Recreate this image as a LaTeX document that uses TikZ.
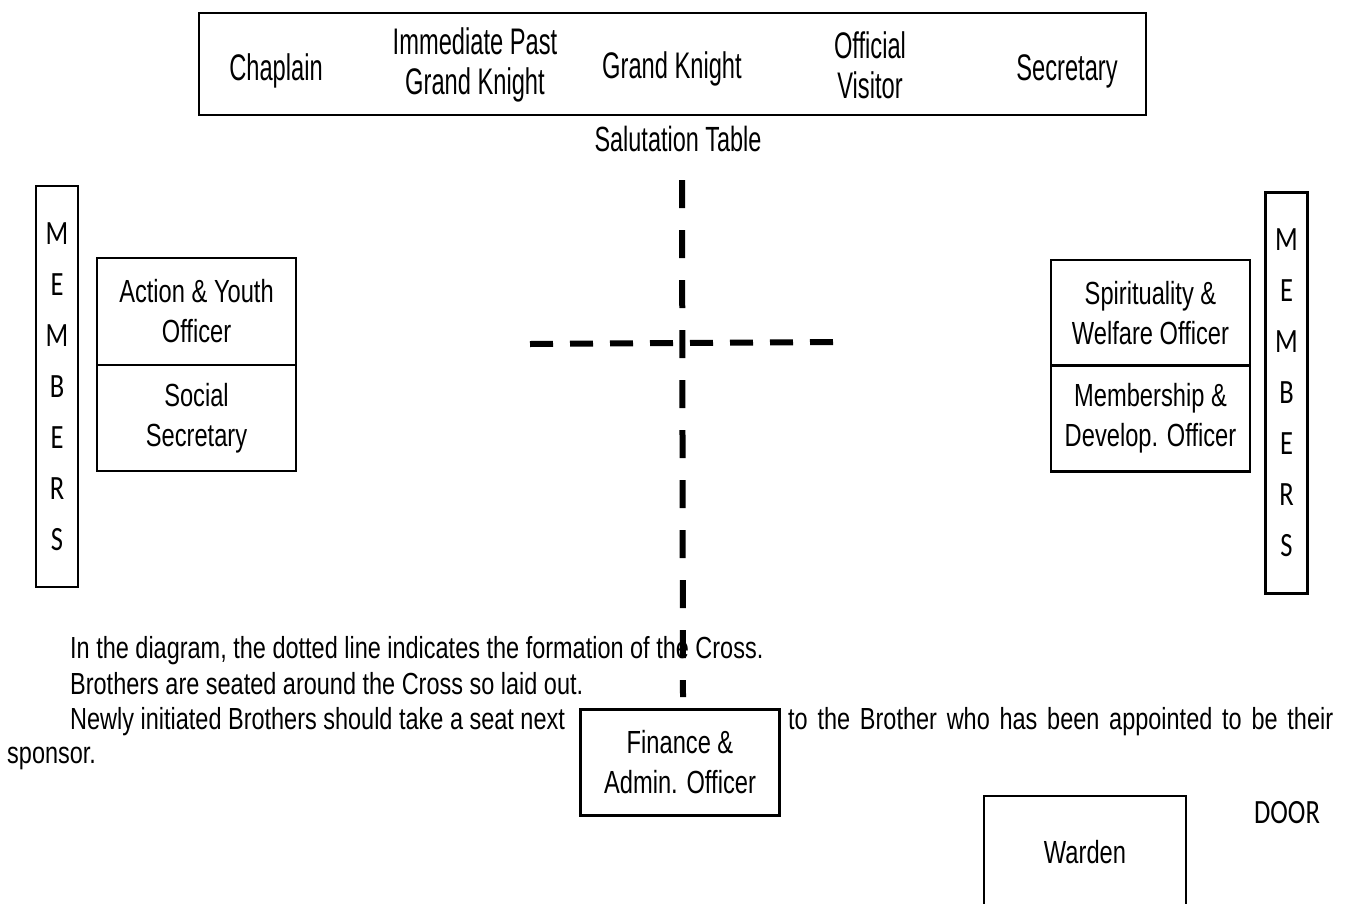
\documentclass[tikz,border=0pt]{standalone}
\usepackage{fontspec}
\setmainfont{Liberation Sans}
\newfontfamily\narrowfont[FakeStretch=0.64]{Liberation Sans}
\newfontfamily\boxfont[FakeStretch=0.74]{Liberation Sans}
\newfontfamily\notefont[FakeStretch=0.77]{Liberation Sans}
\newfontfamily\signfont[FakeStretch=0.67]{Liberation Sans}
\newfontfamily\letterfont[FakeStretch=0.78]{Carlito}
\usetikzlibrary{positioning}

\tikzset{
  seatbox/.style={draw, line width=2.5pt, inner sep=0pt, minimum width=199pt,
    minimum height=106pt, align=center, font=\boxfont\fontsize{32}{40}\selectfont},
  membersbox/.style={draw, line width=2.5pt, inner sep=0pt, minimum width=42pt,
    minimum height=401pt, align=center, font=\letterfont\fontsize{34}{51}\selectfont},
  officer/.style={align=center, inner sep=0pt, font=\narrowfont\fontsize{37}{40}\selectfont},
  note/.style={anchor=base west, inner sep=0pt, font=\notefont\fontsize{30.5}{34}\selectfont},
  crossline/.style={line width=6pt, dash pattern=on 28pt off 22pt},
}

\begin{document}
\begin{tikzpicture}[x=1pt, y=-1pt]
  \useasboundingbox (0,0) rectangle (1350,903);
  % Salutation table
  \node[draw, line width=2.5pt, inner sep=0pt, minimum width=947pt, minimum height=102pt] (table) at (672.5,64) {};
  \node[officer] (chaplain) at (276,71) {Chaplain};
  \node[officer] (pastGK) at (475,65) {Immediate Past\\Grand Knight};
  \node[officer] (grandKnight) at (672,69) {Grand Knight};
  \node[officer] (visitor) at (870,65) {Official\\Visitor};
  \node[officer] (secretary) at (1067,71) {Secretary};
  \node[inner sep=0pt, font=\signfont\fontsize{35}{40}\selectfont] (tableLabel) at (678,139) {Salutation Table};

  % Members along the walls
  \node[membersbox] (membersLeft) at (57,386.5) {M\\E\\M\\B\\E\\R\\S};
  \node[membersbox] (membersRight) at (1286.5,393) {M\\E\\M\\B\\E\\R\\S};

  % Officers' seats
  \node[seatbox, minimum height=107pt] (actionYouth) at (196.5,311.5) {Action \& Youth\\Officer};
  \node[seatbox] (socialSec) at (196.5,418) {Social\\Secretary};
  \node[seatbox] (spirituality) at (1150.5,313) {Spirituality \&\\Welfare Officer};
  \node[seatbox] (membership) at (1150.5,418.5) {Membership \&\\Develop. Officer};
  \node[seatbox] (finance) at (680,762.5) {Finance \&\\Admin. Officer};
  \node[seatbox, minimum width=202pt, minimum height=112pt] (warden) at (1085,852) {Warden};
  \node[inner sep=0pt, font=\letterfont\fontsize{34}{40}\selectfont] (door) at (1287,813) {DOOR};

  % Notes
  \node[note] (note1) at (70,658) {In the diagram, the dotted line indicates the formation of the Cross.};
  \node[note] (note2) at (70,694) {Brothers are seated around the Cross so laid out.};
  \node[note] (note3) at (70,729) {Newly initiated Brothers should take a seat next};
  \node[note] (note4) at (788,729) {\makebox[545pt][s]{to the Brother who has been appointed to be their}};
  \node[note] (note5) at (7,763) {sponsor.};

  % The Cross
  \coordinate (crossTop) at (682,180);
  \coordinate (crossBottom) at (683,697);
  \coordinate (crossLeft) at (530,344);
  \coordinate (crossRight) at (833,342);
  \draw[crossline] (crossTop) -- (crossBottom);
  \draw[crossline, dash pattern=on 23pt off 17pt] (crossLeft) -- (crossRight);
\end{tikzpicture}
\end{document}
